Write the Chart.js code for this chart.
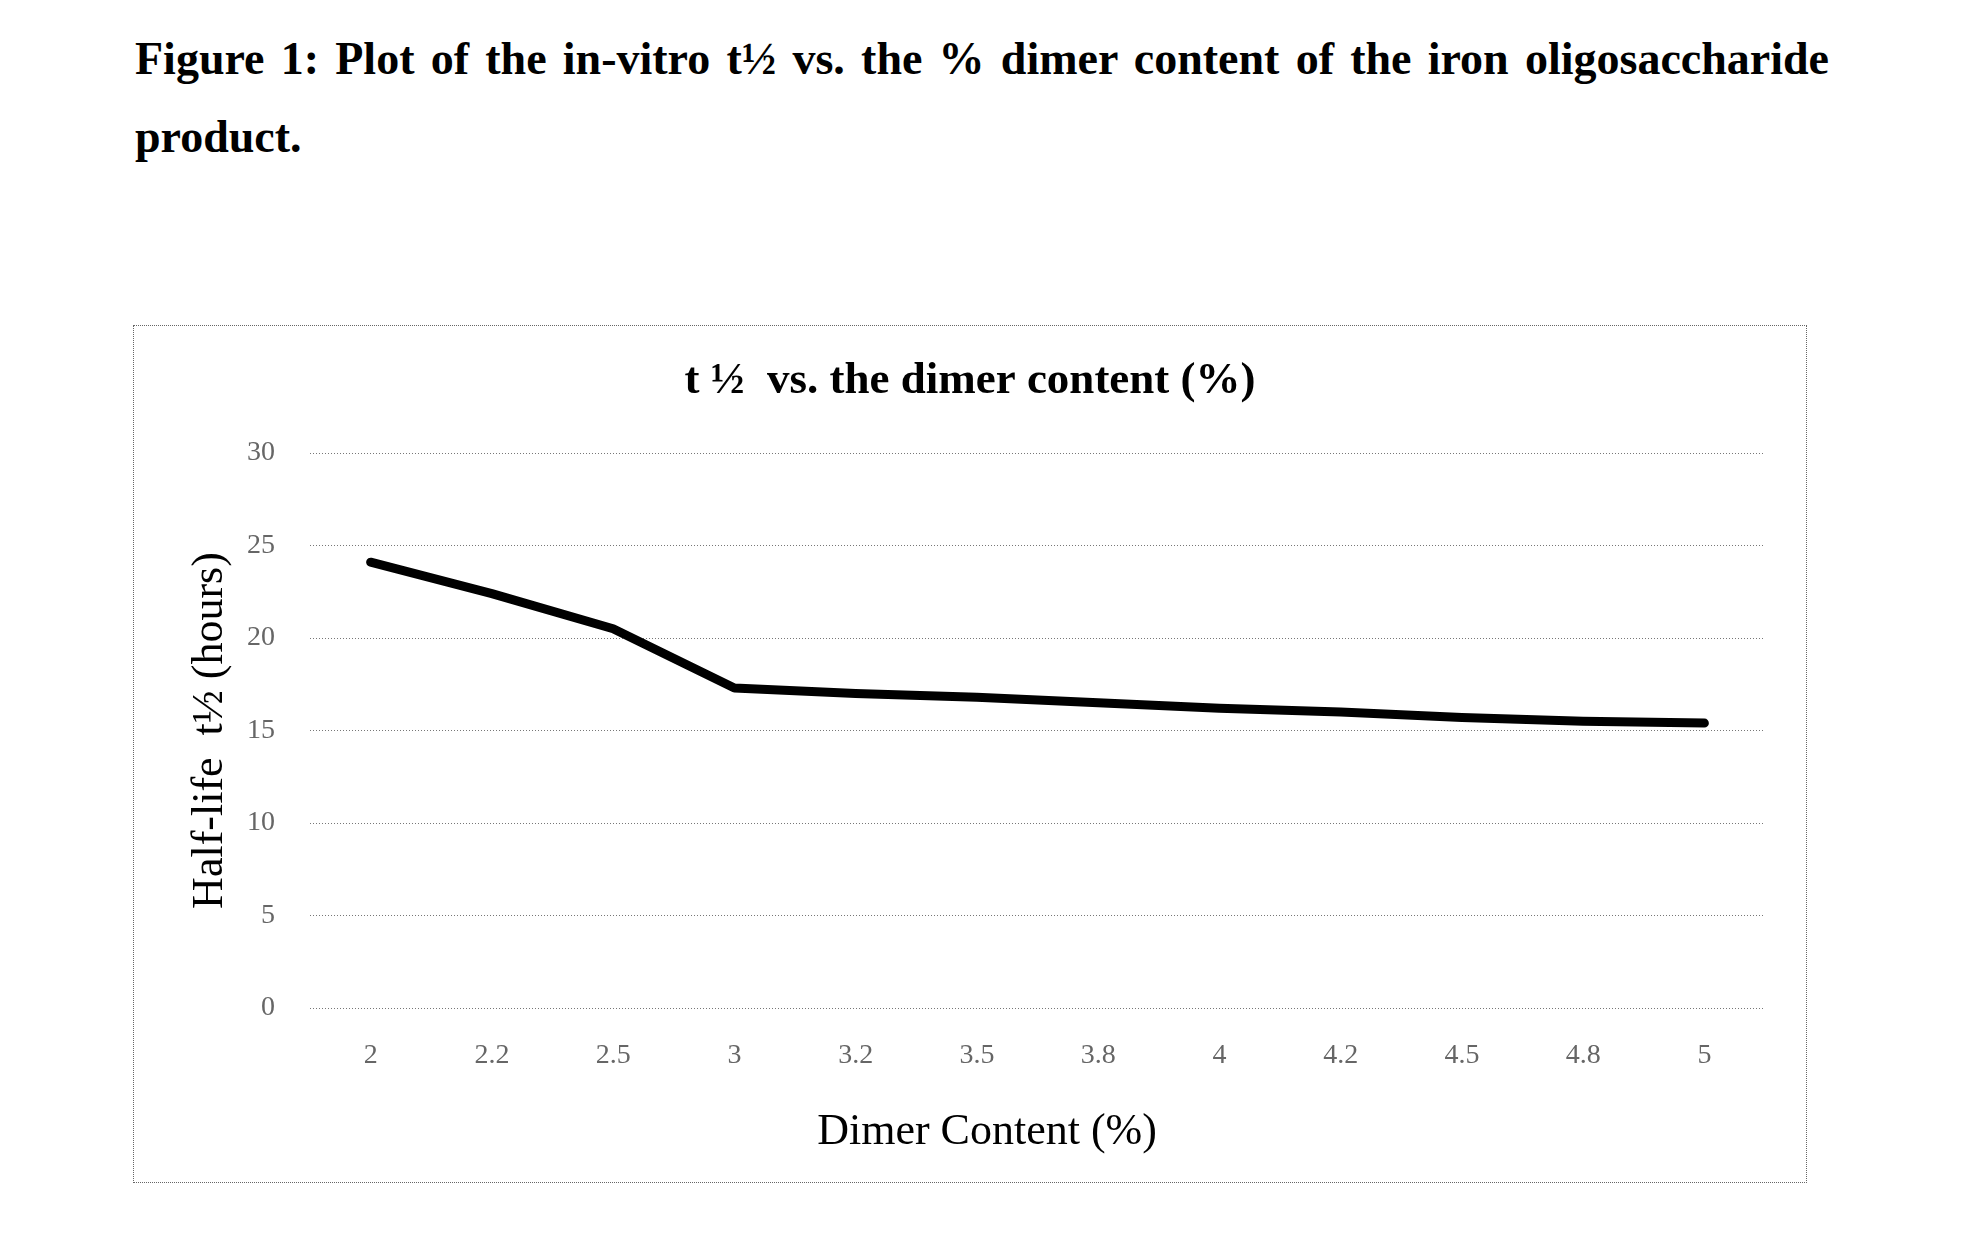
<!DOCTYPE html>
<html>
<head>
<meta charset="utf-8">
<script src="https://cdn.jsdelivr.net/npm/chart.js@4.4.1/dist/chart.umd.min.js"></script>
<style>
  html, body { margin: 0; padding: 0; background: #fff; width: 1963px; height: 1256px; overflow: hidden; }
  #heading { position: absolute; left: 135px; top: 20px; width: 1694px;
    font: bold 46px 'Liberation Serif', 'Times New Roman', serif; line-height: 78px; color: #000; }
  #heading .l1 { text-align: justify; text-align-last: justify; }
  #box { position: absolute; left: 133px; top: 325px; width: 1672px; height: 856px; border: 1px dotted #666; }
  #box canvas { position: absolute; left: 0; top: 0; }
</style>
</head>
<body>
<div id="heading">
  <div class="l1">Figure 1: Plot of the in-vitro t½ vs. the % dimer content of the iron oligosaccharide</div>
  <div>product.</div>
</div>
<div id="box"><canvas id="c" width="1672" height="856"></canvas></div>
<script>
// ---- data ----
const categories = ['2', '2.2', '2.5', '3', '3.2', '3.5', '3.8', '4', '4.2', '4.5', '4.8', '5'];
const halfLife = [24.1, 22.4, 20.5, 17.3, 17.0, 16.8, 16.5, 16.2, 16.0, 15.7, 15.5, 15.4];
const yMin = 0;
const yMax = 30;
const yStep = 5;
const chartTitle = 't \u00BD  vs. the dimer content (%)';
const yAxisTitle = 'Half-life  t\u00BD (hours)';
const xAxisTitle = 'Dimer Content (%)';

const serif = "'Liberation Serif', 'Times New Roman', serif";

const xTitlePlugin = {
  id: 'xTitle',
  afterDraw(chart, args, opts) {
    const ctx = chart.ctx;
    const a = chart.chartArea;
    ctx.save();
    ctx.font = opts.font;
    ctx.fillStyle = opts.color;
    ctx.textAlign = 'center';
    ctx.textBaseline = 'middle';
    ctx.fillText(opts.text, a.left + (a.right - a.left) * opts.relX, a.bottom + opts.dy);
    ctx.restore();
  }
};

new Chart(document.getElementById('c'), {
  type: 'line',
  data: {
    labels: categories,
    datasets: [{
      data: halfLife,
      borderColor: '#000',
      backgroundColor: '#000',
      borderWidth: 9,
      pointRadius: 0,
      tension: 0,
      borderCapStyle: 'round',
      borderJoinStyle: 'round',
      fill: false
    }]
  },
  options: {
    responsive: false,
    devicePixelRatio: 1,
    animation: false,
    layout: { padding: 0 },
    plugins: {
      legend: { display: false },
      tooltip: { enabled: false },
      title: {
        display: true,
        text: chartTitle,
        color: '#000',
        font: { family: serif, size: 45, weight: 'bold', lineHeight: 1.2 },
        padding: { top: 28, bottom: 45 }
      },
      xTitle: { text: xAxisTitle, font: "44px " + serif, color: '#000', relX: 0.4653, dy: 124 }
    },
    scales: {
      x: {
        type: 'category',
        offset: true,
        grid: { display: false },
        border: { display: false },
        ticks: { color: '#666', font: { family: serif, size: 28 }, padding: 23, maxRotation: 0, autoSkip: false },
        afterFit: s => { s.height = 174; }
      },
      y: {
        type: 'linear',
        min: yMin,
        max: yMax,
        ticks: { stepSize: yStep, color: '#666', font: { family: serif, size: 28 }, padding: 35 },
        grid: { color: '#777', lineWidth: 1, drawTicks: false },
        border: { display: false, dash: [1, 2] },
        title: {
          display: true,
          text: yAxisTitle,
          color: '#000',
          font: { family: serif, size: 44, lineHeight: 1.2 },
          padding: { top: 50, bottom: 0 }
        },
        afterFit: s => { s.width = 176; }
      },
      yR: {
        type: 'linear',
        position: 'right',
        display: true,
        grid: { display: false },
        border: { display: false },
        ticks: { display: false },
        afterFit: s => { s.width = 41; }
      }
    }
  },
  plugins: [xTitlePlugin]
});
</script>
</body>
</html>
